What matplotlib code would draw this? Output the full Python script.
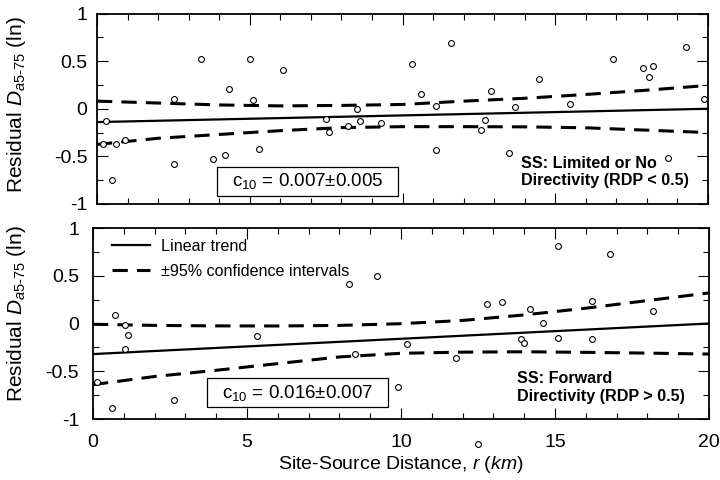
import matplotlib
matplotlib.use("Agg")
import matplotlib.pyplot as plt
from matplotlib.lines import Line2D
from matplotlib.patches import Rectangle
from matplotlib.ticker import MultipleLocator

plt.rcParams['font.family'] = ['Liberation Sans', 'DejaVu Sans']
plt.rcParams['mathtext.fontset'] = 'custom'
plt.rcParams['mathtext.rm'] = 'Liberation Sans'
plt.rcParams['mathtext.it'] = 'Liberation Sans:italic'
plt.rcParams['mathtext.bf'] = 'Liberation Sans:bold'

# ---- Strike-slip, limited or no directivity (RDP < 0.5) ----
top_r = [0.31, 0.21, 0.61, 0.91, 0.50, 2.52, 2.52, 3.41, 4.32, 3.81, 4.19, 5.01,
         5.11, 5.30, 6.10, 7.50, 7.60, 8.22, 8.50, 8.61, 9.30, 10.30, 10.61,
         11.09, 11.09, 11.60, 12.70, 12.58, 12.89, 13.48, 13.69, 14.48, 15.48,
         16.89, 17.88, 18.19, 18.08, 18.68, 19.28, 19.87]
top_res = [-0.125, -0.37, -0.365, -0.33, -0.75, 0.10, -0.58, 0.525, 0.21, -0.53,
           -0.49, 0.52, 0.095, -0.42, 0.41, -0.11, -0.24, -0.18, 0.0, -0.125,
           -0.15, 0.475, 0.16, 0.03, -0.43, 0.69, -0.115, -0.22, 0.19, -0.46,
           0.015, 0.31, 0.05, 0.52, 0.425, 0.45, 0.33, -0.52, 0.65, 0.10]
top_intercept = -0.14
top_c10 = 0.007
top_c10_err = 0.005

# ---- Strike-slip, forward directivity (RDP > 0.5) ----
bot_r = [0.71, 1.03, 1.14, 1.03, 0.12, 0.63, 2.62, 5.31, 8.30, 9.21, 8.52, 9.91,
         10.19, 11.80, 12.51, 12.80, 13.29, 13.90, 14.00, 14.19, 14.60, 15.11,
         15.11, 16.21, 16.21, 16.77, 18.19]
bot_res = [0.089, -0.016, -0.12, -0.267, -0.61, -0.88, -0.80, -0.13, 0.41, 0.50,
           -0.316, -0.67, -0.21, -0.365, -1.26, 0.20, 0.23, -0.165, -0.20, 0.15,
           0.005, 0.81, -0.15, 0.24, -0.165, 0.73, 0.134]
bot_intercept = -0.32
bot_c10 = 0.016
bot_c10_err = 0.007

# 95% confidence bounds of the trend
band_r = [0, 2, 4, 6, 8, 10, 12, 14, 16, 18, 20]
top_upper = [0.08, 0.06, 0.04, 0.03, 0.035, 0.045, 0.08, 0.11, 0.15, 0.195, 0.245]
top_lower = [-0.375, -0.31, -0.27, -0.23, -0.198, -0.188, -0.188, -0.19, -0.20, -0.225, -0.25]
bot_upper = [-0.008, -0.02, -0.025, -0.026, -0.02, -0.002, 0.032, 0.09, 0.16, 0.24, 0.32]
bot_lower = [-0.64, -0.555, -0.49, -0.42, -0.35, -0.312, -0.30, -0.296, -0.302, -0.31, -0.32]

r_range = [0, 20]

DASH = (0, (5.0, 3.0))
fig = plt.figure(figsize=(7.2, 4.8), dpi=100)
ax_top = fig.add_axes([97 / 720, 1 - 204 / 480, 611 / 720, 190.5 / 480])
ax_bot = fig.add_axes([93 / 720, 1 - 419 / 480, 616 / 720, 191 / 480])


def draw_panel(ax, r, res, b0, c10, upper, lower):
    trend = [b0 + c10 * x for x in r_range]
    ax.plot(r, res, linestyle='none', marker='o', markersize=4.2,
            markerfacecolor='white', markeredgecolor='black',
            markeredgewidth=0.8, clip_on=False, zorder=4)
    ax.plot(r_range, trend, color='black', lw=1.6, zorder=3)
    ax.plot(band_r, upper, color='black', lw=2.2, linestyle=DASH, zorder=3)
    ax.plot(band_r, lower, color='black', lw=2.2, linestyle=DASH, zorder=3)
    ax.set_xlim(0, 20)
    ax.set_ylim(-1, 1)
    ax.xaxis.set_major_locator(MultipleLocator(5))
    ax.xaxis.set_minor_locator(MultipleLocator(1))
    ax.yaxis.set_major_locator(MultipleLocator(0.5))
    ax.yaxis.set_minor_locator(MultipleLocator(0.25))
    ax.set_yticks([-1, -0.5, 0, 0.5, 1])
    ax.set_yticklabels(['-1', '-0.5', '0', '0.5', '1'])
    ax.tick_params(which='both', direction='in', top=True, right=True,
                   width=0.8, labelsize=14)
    ax.tick_params(which='major', length=8)
    ax.tick_params(which='minor', length=4.5)
    for sp in ax.spines.values():
        sp.set_linewidth(1.3)
    ax.set_ylabel(r'Residual $D_{\mathit{a5}\text{-}\mathit{75}}$ (ln)', fontsize=15)


draw_panel(ax_top, top_r, top_res, top_intercept, top_c10, top_upper, top_lower)
draw_panel(ax_bot, bot_r, bot_res, bot_intercept, bot_c10, bot_upper, bot_lower)

ax_top.tick_params(axis='x', labelbottom=False)
ax_top.tick_params(axis='y', pad=7)
ax_bot.tick_params(axis='y', pad=10)
ax_bot.tick_params(axis='x', pad=11)
ax_bot.set_xticks([0, 5, 10, 15, 20])
ax_bot.set_xticklabels(['0', '5', '10', '15', '20'])
ax_top.yaxis.set_label_coords(-0.113, 0.52)
ax_bot.yaxis.set_label_coords(-0.1055, 0.55)
ax_bot.set_xlabel(r'Site-Source Distance, $\mathit{r\ (km)}$', fontsize=14, labelpad=2)

# coefficient boxes
def coef_box(ax, x0, y0, x1, y1, c10, err):
    ax.add_patch(Rectangle((x0, y0), x1 - x0, y1 - y0, transform=ax.transAxes,
                           facecolor='white', edgecolor='black', lw=0.9,
                           zorder=6, clip_on=False))
    ax.text((x0 + x1) / 2, (y0 + y1) / 2, 'c$_{10}$ = %.3f\u00b1%.3f' % (c10, err),
            transform=ax.transAxes, ha='center', va='center', fontsize=13.5,
            zorder=7)


coef_box(ax_top, 0.197, 0.044, 0.493, 0.196, top_c10, top_c10_err)
coef_box(ax_bot, 0.1856, 0.061, 0.479, 0.213, bot_c10, bot_c10_err)

ax_top.text(0.694, 0.167, 'SS: Limited or No\nDirectivity (RDP < 0.5)',
            transform=ax_top.transAxes, ha='left', va='center', fontsize=11.6,
            fontweight='bold', linespacing=1.2, zorder=7)
ax_bot.text(0.689, 0.165, 'SS: Forward\nDirectivity (RDP > 0.5)',
            transform=ax_bot.transAxes, ha='left', va='center', fontsize=11.6,
            fontweight='bold', linespacing=1.2, zorder=7)

handles = [Line2D([], [], color='black', lw=1.6),
           Line2D([], [], color='black', lw=2.2, linestyle=DASH)]
ax_bot.legend(handles, ['Linear trend', '\u00b195% confidence intervals'],
              loc='upper left', bbox_to_anchor=(0.0304, 0.944), frameon=False,
              fontsize=11.6, handlelength=2.4, handletextpad=0.65,
              labelspacing=0.62, borderpad=0, borderaxespad=0)

fig.savefig('out.png', dpi=100)
